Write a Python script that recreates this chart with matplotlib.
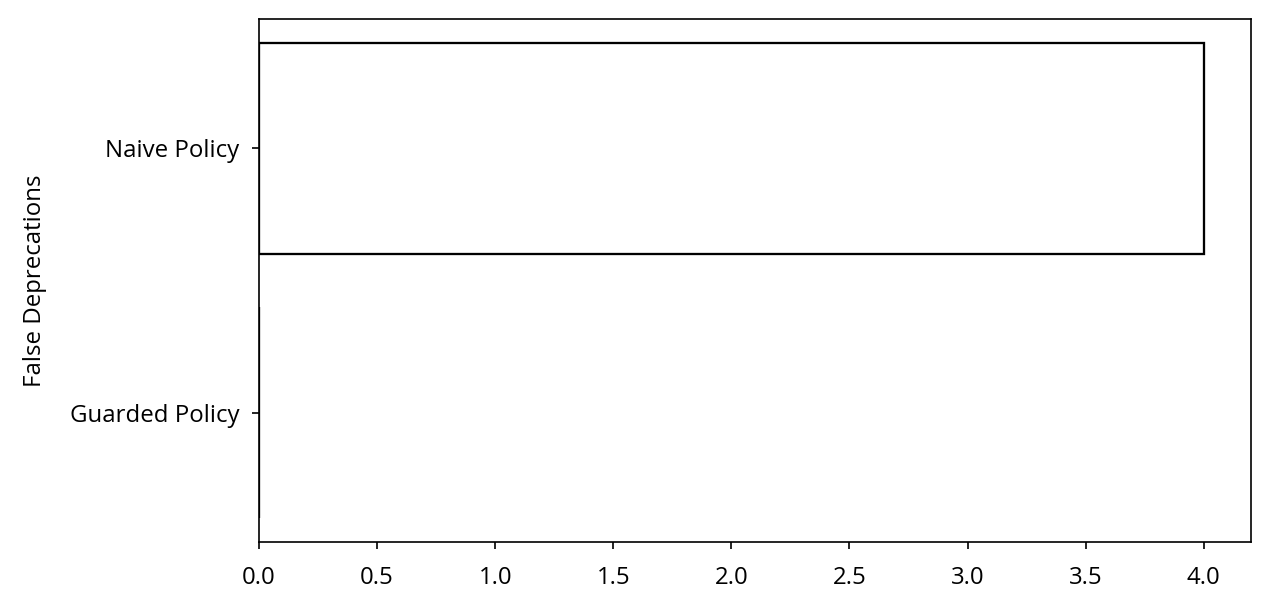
import matplotlib
matplotlib.use('Agg')
import matplotlib.pyplot as plt

plt.rcParams['font.family'] = ['Open Sans', 'DejaVu Sans']
plt.rcParams['font.size'] = 11.5

policies = ['Guarded Policy', 'Naive Policy']
false_deprecations = [0, 4]

fig, ax = plt.subplots(figsize=(1270/150, 616/150), dpi=150)
fig.subplots_adjust(left=259/1270, right=1251/1270, top=1-19/616, bottom=1-542/616)

ax.barh(policies, false_deprecations, color='white', edgecolor='black', linewidth=1.1, zorder=3)
ax.set_ylabel('False Deprecations', labelpad=11)
ax.tick_params(axis='x', pad=8)
ax.tick_params(axis='y', pad=6)

plt.savefig('out.png', dpi=150)
